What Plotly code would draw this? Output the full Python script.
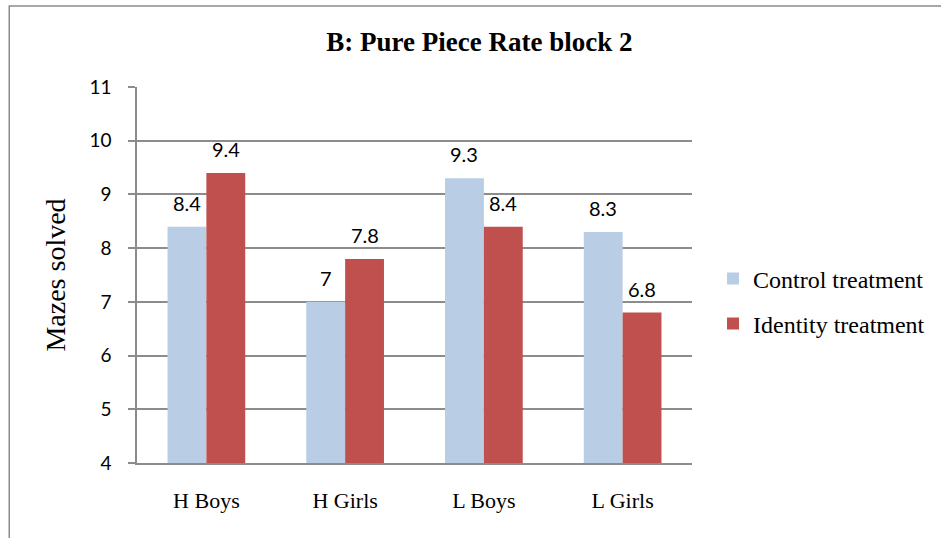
import plotly.graph_objects as go

# chart data
categories = ["H Boys", "H Girls", "L Boys", "L Girls"]
control = [8.4, 7, 9.3, 8.3]
identity = [9.4, 7.8, 8.4, 6.8]
y_ticks = [4, 5, 6, 7, 8, 9, 10, 11]

CONTROL_COLOR = "#B9CDE5"
IDENTITY_COLOR = "#C0504D"
SERIF = "Liberation Serif, Times New Roman, serif"
SANS = "Lato, Carlito, Calibri, sans-serif"


def make_figure():
    fig = go.Figure()
    fig.add_trace(go.Bar(x=categories, y=control, name="Control treatment",
                         marker=dict(color=CONTROL_COLOR, line=dict(width=0)),
                         legendgroup="c"))
    fig.add_trace(go.Bar(x=categories, y=identity, name="Identity treatment",
                         marker=dict(color=IDENTITY_COLOR, line=dict(width=0)),
                         legendgroup="i"))

    # value labels above each bar
    for vals, shift in ((control, -19.5), (identity, 19.5)):
        for cat, v in zip(categories, vals):
            fig.add_annotation(x=cat, y=v, text=f"{v:g}", showarrow=False,
                               xshift=shift, yshift=24,
                               font=dict(family=SANS, size=20, color="black"))

    fig.update_layout(
        width=941, height=538,
        margin=dict(l=137, r=248, t=87, b=75),
        paper_bgcolor="white", plot_bgcolor="white",
        barmode="group", bargap=0.44, bargroupgap=0,
        title=dict(text="<b>B: Pure Piece Rate block 2</b>", x=0.617, xref="paper",
                   xanchor="center", y=0.922, yanchor="middle",
                   font=dict(family=SERIF, size=27, color="black")),
        legend=dict(x=1.036, y=0.43, xanchor="left", yanchor="middle",
                    font=dict(family=SERIF, size=24, color="black"),
                    tracegroupgap=11, itemwidth=30, bgcolor="rgba(0,0,0,0)"),
        showlegend=True,
    )
    fig.update_xaxes(showgrid=False, showline=True, linecolor="#8c8c8c", linewidth=1.5,
                     ticks="", tickfont=dict(family=SERIF, size=22, color="black"),
                     ticklabelstandoff=17)
    fig.update_yaxes(range=[4, 11], tickvals=y_ticks, showgrid=True,
                     gridcolor="#8c8c8c", gridwidth=1.5, zeroline=False,
                     showline=True, linecolor="#8c8c8c", linewidth=1.5,
                     ticks="outside", ticklen=7, tickcolor="#8c8c8c", tickwidth=1.5,
                     ticklabelstandoff=13,
                     tickfont=dict(family=SANS, size=19, color="black"),
                     title=dict(text="Mazes solved", standoff=16,
                                font=dict(family=SERIF, size=28, color="black")))

    # outer chart frame (only top and left edges fall inside the picture)
    fig.add_shape(type="rect", xref="paper", yref="paper",
                  x0=-0.2302, x1=1.6, y0=-0.4, y1=1.2154,
                  line=dict(color="#8c8c8c", width=1.5), layer="below")
    return fig


def main():
    fig = make_figure()
    # drop the browser's default body margin so the chart sits at the page corner
    fig.write_html("out.html", config={"displayModeBar": False},
                   post_script="document.body.style.margin='0';")


if __name__ == "__main__":
    main()
